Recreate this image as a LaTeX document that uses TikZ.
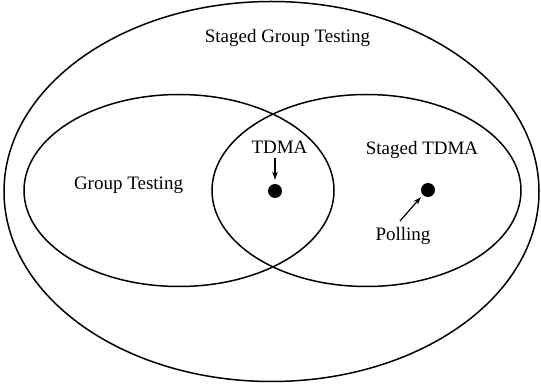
\documentclass[tikz,border=0pt]{standalone}
\usepackage{fontspec}
\setmainfont{Liberation Serif}
\usetikzlibrary{arrows.meta}
\begin{document}
\begin{tikzpicture}[x=1pt,y=-1pt,
  setline/.style={line width=1.5pt},
  lbl/.style={font=\fontsize{19}{21}\selectfont, inner sep=0pt},
  dotnode/.style={circle, fill=black, minimum size=14pt, inner sep=0pt},
  pointer/.style={line width=1.2pt, -{Stealth[length=8pt,width=5.5pt]}}]
\useasboundingbox (0,0) rectangle (541,387);
\draw[setline] (271.5,191.5) ellipse [x radius=267.5, y radius=190];
\draw[setline] (179,190.5) ellipse [x radius=155, y radius=96];
\draw[setline] (366.5,190.5) ellipse [x radius=154.5, y radius=96];
\node[lbl] (sgt) at (287.5,38) {Staged Group Testing};
\node[lbl] (gt) at (128.5,185) {Group Testing};
\node[lbl] (tdma) at (279.5,147) {TDMA};
\node[lbl] (stdma) at (422,150) {Staged TDMA};
\node[lbl] (poll) at (403,236) {Polling};
\node[dotnode] (d1) at (275,191) {};
\node[dotnode] (d2) at (428,190) {};
\coordinate (pstart) at (400,221);
\draw[pointer] (275,158) -- ([yshift=4pt]d1.north);
\draw[pointer] (pstart) -- ([shift={(-2pt,-2pt)}]d2.south west);
\end{tikzpicture}
\end{document}
